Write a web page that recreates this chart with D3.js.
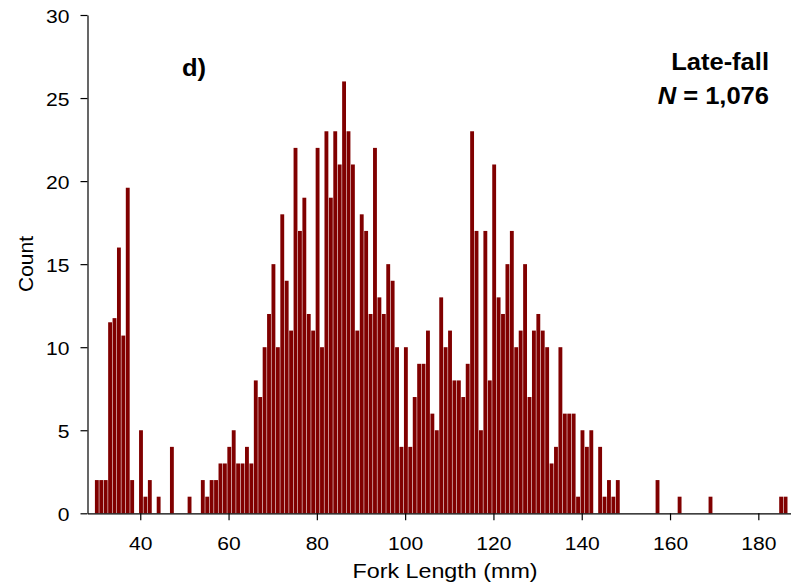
<!DOCTYPE html>
<html>
<head>
<meta charset="utf-8">
<script src="https://cdn.jsdelivr.net/npm/d3@7/dist/d3.min.js"></script>
<style>
  html, body { margin: 0; padding: 0; background: #fff; }
  svg { display: block; }
  text { font-family: "Liberation Sans", Arial, sans-serif; fill: #000; }
</style>
</head>
<body>
<svg id="chart" width="791" height="586"></svg>
<script>
// Fork length bins (mm) and counts
const forkLength = [
  30,31,32,33,34,35,36,37,38,39,40,41,42,43,44,45,46,47,48,49,50,
  51,52,53,54,55,56,57,58,59,60,61,62,63,64,65,66,67,68,69,70,
  71,72,73,74,75,76,77,78,79,80,81,82,83,84,85,86,87,88,89,90,
  91,92,93,94,95,96,97,98,99,100,101,102,103,104,105,106,107,108,109,110,
  111,112,113,114,115,116,117,118,119,120,121,122,123,124,125,126,127,128,129,130,
  131,132,133,134,135,136,137,138,139,140,141,142,143,144,145,146,147,148,
  157,162,169,185,186
];
const counts = [
  2,2,2,11.5,11.75,16,10.7,19.6,2,0,5,1,2,0,1,0,0,4,0,0,0,
  1,0,0,2,1,2,2,3,3,4,5,3,3,4,3,8,7,10,12,15,
  10,18,14,11,22,17,19,12,11,22,10,23,19,23,21,26,23,21,11,18,
  17,12,22,13,12,15,14,10,4,10,4,7,9,9,11,6,5,13,10,11,
  8,8,7,9,23,17,5,17,8,21,13,12,15,17,10,11,15,7,11,12,
  11,10,3,4,10,6,6,6,1,5,4,5,0,4,1,2,1,2,
  2,1,1,1,1
];
const xTicks = [40,60,80,100,120,140,160,180];
const yTicks = [0,5,10,15,20,25,30];
const panelLabel = "d)";
const groupLabel = "Late-fall";
const nLabel = "1,076";
const xTitle = "Fork Length (mm)";
const yTitle = "Count";

const svg = d3.select("#chart");
const SX = 1.11; // horizontal stretch of the original rendering

const x = d3.scaleLinear().domain([28.05, 187.4]).range([87.5, 791]);
const y = d3.scaleLinear().domain([0, 30]).range([513.3, 15]);
const bw = x(1) - x(0);

// bars
svg.append("g").selectAll("rect")
  .data(forkLength.map((v, i) => ({v, c: counts[i]})).filter(d => d.c > 0))
  .join("rect")
  .attr("x", d => x(d.v) - 1.2)
  .attr("width", bw - 0.55)
  .attr("y", d => y(d.c))
  .attr("height", d => y(0) - y(d.c))
  .attr("fill", "#800000");

// x axis
const xAxis = svg.append("g")
  .attr("transform", `translate(0,${y(0)})`)
  .call(d3.axisBottom(x).tickValues(xTicks).tickSizeInner(7).tickSizeOuter(0).tickFormat(d3.format("d")));
xAxis.select(".domain").attr("stroke", "#000").attr("stroke-width", 1.2);
xAxis.selectAll(".tick line").attr("stroke", "#000").attr("stroke-width", 1.2);
xAxis.selectAll(".tick text")
  .attr("y", null).attr("dy", null)
  .attr("font-size", 19).attr("font-family", null)
  .attr("transform", `translate(0,37) scale(${SX},1)`);

// y axis
const yAxis = svg.append("g")
  .attr("transform", `translate(${x.range()[0]},0)`)
  .call(d3.axisLeft(y).tickValues(yTicks).tickSizeInner(7).tickSizeOuter(0));
yAxis.select(".domain").attr("stroke", "#000").attr("stroke-width", 1.2);
yAxis.selectAll(".tick line").attr("stroke", "#000").attr("stroke-width", 1.2);
yAxis.selectAll(".tick text")
  .attr("x", null).attr("dy", null)
  .attr("font-size", 19).attr("font-family", null)
  .attr("transform", `translate(-18,7) scale(${SX},1)`);

// axis titles
svg.append("text")
  .attr("text-anchor", "middle")
  .attr("font-size", 21)
  .attr("transform", `translate(445,578) scale(${SX},1)`)
  .text(xTitle);
svg.append("text")
  .attr("text-anchor", "middle")
  .attr("font-size", 21)
  .attr("transform", `translate(33,264) rotate(-90)`)
  .text(yTitle);

// annotations
svg.append("text")
  .attr("font-size", 23).attr("font-weight", "bold")
  .attr("transform", `translate(182,76) scale(${SX},1)`)
  .text(panelLabel);
svg.append("text")
  .attr("font-size", 23).attr("font-weight", "bold").attr("text-anchor", "end")
  .attr("transform", `translate(769,70) scale(${SX},1)`)
  .text(groupLabel);
const nt = svg.append("text")
  .attr("font-size", 23).attr("font-weight", "bold").attr("text-anchor", "end")
  .attr("transform", `translate(769,104) scale(${SX},1)`);
nt.append("tspan").attr("font-style", "italic").text("N");
nt.append("tspan").text(" = " + nLabel);
</script>
</body>
</html>
